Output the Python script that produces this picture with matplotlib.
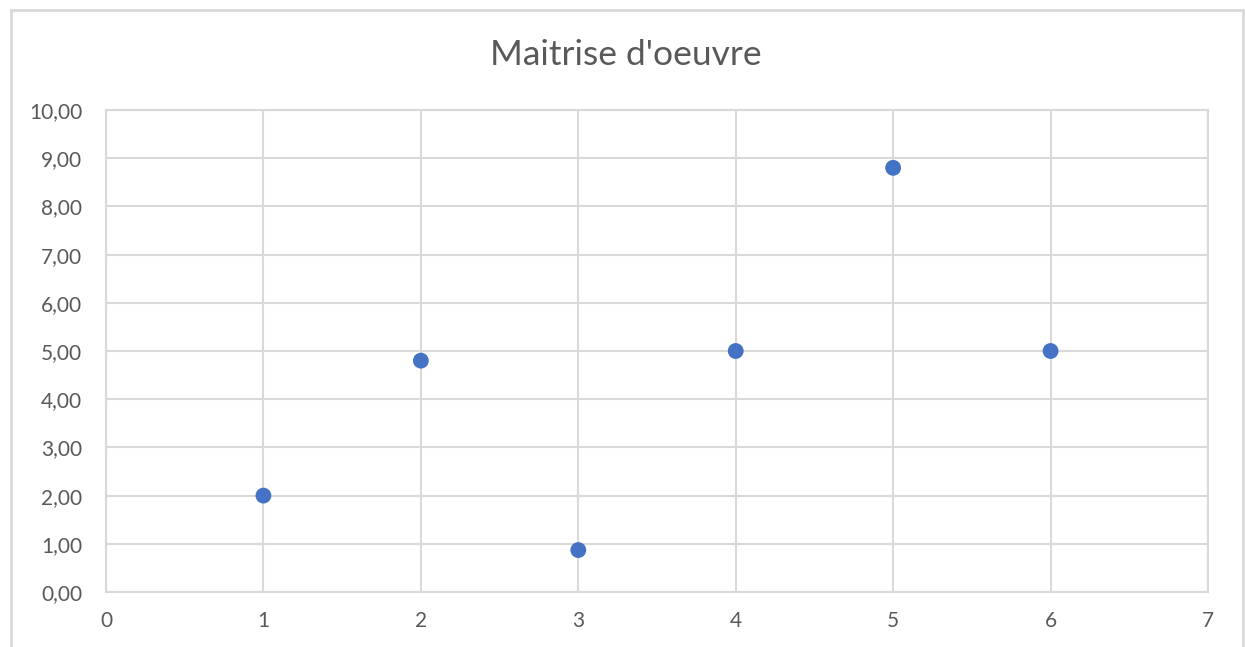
import matplotlib
matplotlib.use("Agg")
import matplotlib.pyplot as plt
from matplotlib.patches import Rectangle
from matplotlib.ticker import FuncFormatter

# data
x_vals = [1, 2, 3, 4, 5, 6]
y_vals = [2.0, 4.8, 0.87, 5.0, 8.8, 5.0]
title = "Maitrise d'oeuvre"

plt.rcParams['font.family'] = ['Lato', 'DejaVu Sans']
grey_text = '#595959'
grid_col = '#D9D9D9'

W, H = 1245, 647
fig = plt.figure(figsize=(W / 100, H / 100), dpi=100)

# outer chart frame (bottom edge runs off the image)
fig.patches.append(Rectangle((11 / W, -0.05), (1243 - 11) / W, 1.05 - 10 / H,
                             transform=fig.transFigure, fill=False,
                             edgecolor='#D9D9D9', linewidth=2))

ax = fig.add_axes([106 / W, 1 - 592 / H, (1208 - 106) / W, (592 - 110) / H])
ax.scatter(x_vals, y_vals, s=130, color='#4472C4', zorder=3, edgecolors='none')

ax.set_xlim(0, 7)
ax.set_ylim(0, 10)
ax.set_xticks(range(0, 8))
ax.set_yticks(range(0, 11))
ax.yaxis.set_major_formatter(FuncFormatter(lambda v, p: f"{v:.2f}".replace('.', ',')))
ax.grid(True, color=grid_col, linewidth=1.5)
ax.set_axisbelow(True)
for s in ax.spines.values():
    s.set_color(grid_col)
    s.set_linewidth(1.5)
ax.tick_params(length=0, labelsize=15, labelcolor=grey_text)
ax.tick_params(axis='y', pad=17)
ax.tick_params(axis='x', pad=14)

fig.text(626 / W, 1 - 55 / H, title, ha='center', va='center',
         fontsize=25.5, color=grey_text)

fig.savefig('out.png', dpi=100)
